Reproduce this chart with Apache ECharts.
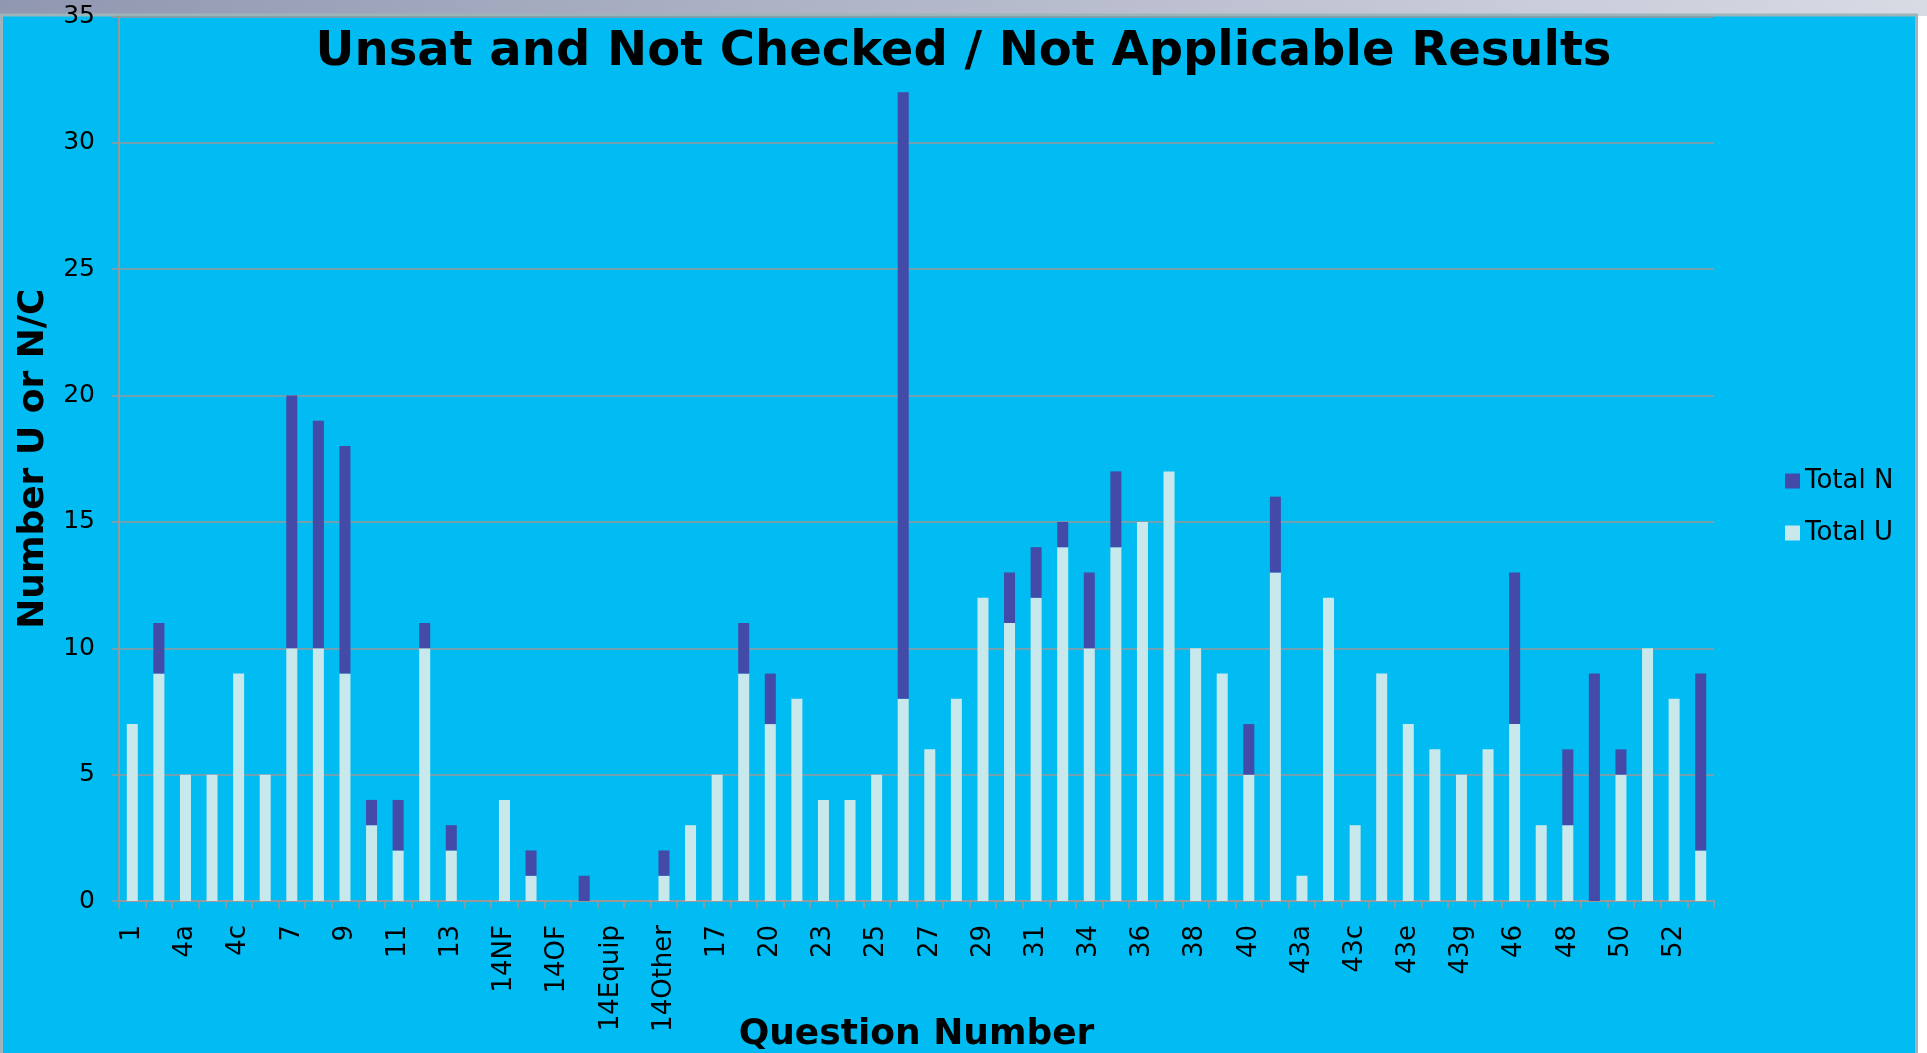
<!DOCTYPE html>
<html>
<head>
<meta charset="utf-8">
<script src="https://cdn.jsdelivr.net/npm/echarts@6/dist/echarts.min.js"></script>
<style>
html,body{margin:0;padding:0;background:#ffffff;overflow:hidden;}
#chart{width:1927px;height:1053px;}
</style>
</head>
<body>
<div id="chart"></div>
<script>
const categories = ["1","2","4a","4b","4c","5","7","8","9","10","11","12","13","14","14NF","14NS","14OF","14OS","14Equip","14Fuel","14Other","16","17","18","20","21","23","24","25","26","27","28","29","30","31","32","34","35","36","37","38","39","40","43","43a","43b","43c","43d","43e","43f","43g","45","46","47","48","49","50","51","52","53"];
const totalU = [7,9,5,5,9,5,10,10,9,3, 2,10,2,0,4,1,0,0,0,0, 1,3,5,9,7,8,4,4,5,8, 6,8,12,11,12,14,10,14,15,17, 10,9,5,13,1,12,3,9,7,6, 5,6,7,3,3,0,5,10,8,2];
const totalN = [0,2,0,0,0,0,10,9,9,1, 2,1,1,0,0,1,0,1,0,0, 1,0,0,2,2,0,0,0,0,24, 0,0,0,2,2,1,3,3,0,0, 0,0,2,3,0,0,0,0,0,0, 0,0,6,0,3,9,1,0,0,7];
const yTicks = {min: 0, max: 35, interval: 5};

const FONT = "'DejaVu Sans', Verdana, sans-serif";
const chart = echarts.init(document.getElementById('chart'), null, {renderer: 'canvas'});
chart.setOption({
  backgroundColor: 'transparent',
  animation: false,
  graphic: [
    {type: 'rect', z: -100, silent: true, shape: {x: 0, y: 0, width: 1927, height: 16},
     style: {fill: new echarts.graphic.LinearGradient(0, 0, 1, 0, [{offset: 0, color: '#9097b0'}, {offset: 1, color: '#d8dae4'}])}},
    {type: 'rect', z: -99, silent: true, shape: {x: 1.5, y: 15, width: 1915, height: 1040},
     style: {fill: '#00BCF2', stroke: '#9db5ba', lineWidth: 3}}
  ],
  title: {
    text: 'Unsat and Not Checked / Not Applicable Results',
    left: 'center', top: 24,
    textStyle: {fontFamily: FONT, fontWeight: 'bold', fontSize: 48, color: '#000'}
  },
  legend: {
    orient: 'vertical', left: 1780, top: 463,
    itemWidth: 15, itemHeight: 15, itemGap: 26,
    icon: 'rect',
    data: ['Total N', 'Total U'],
    textStyle: {fontFamily: FONT, fontSize: 26, color: '#000'}
  },
  grid: {left: 119, right: 213, top: 16.5, bottom: 152, containLabel: false, outerBoundsMode: 'none'},
  xAxis: {
    type: 'category',
    data: categories,
    name: 'Question Number',
    nameLocation: 'middle',
    nameGap: 116,
    nameMoveOverlap: false,
    nameTextStyle: {fontFamily: FONT, fontWeight: 'bold', fontSize: 36, color: '#000'},
    axisLine: {show: true, lineStyle: {color: '#999', width: 2}},
    axisTick: {show: true, interval: 0, length: 8, lineStyle: {color: '#999', width: 1.5}},
    axisLabel: {interval: 1, rotate: 90, margin: 24, padding: [10, 0, 0, 0], fontFamily: FONT, fontSize: 26, color: '#000'}
  },
  yAxis: {
    type: 'value',
    min: yTicks.min, max: yTicks.max, interval: yTicks.interval,
    name: 'Number U or N/C',
    nameLocation: 'middle',
    nameGap: 67,
    nameTextStyle: {fontFamily: FONT, fontWeight: 'bold', fontSize: 36, color: '#000'},
    axisLine: {show: true, lineStyle: {color: '#999', width: 2}},
    axisTick: {show: true, length: 7, lineStyle: {color: '#999', width: 1.5}},
    axisLabel: {margin: 24, fontFamily: FONT, fontSize: 25, color: '#000'},
    splitLine: {show: true, lineStyle: {color: '#999', width: 1.5}}
  },
  series: [
    {name: 'Total U', type: 'bar', stack: 'tot', data: totalU, barWidth: 11,
     itemStyle: {color: '#C8E8EB'}},
    {name: 'Total N', type: 'bar', stack: 'tot', data: totalN, barWidth: 11,
     itemStyle: {color: '#434AA8'}}
  ]
});
</script>
</body>
</html>
